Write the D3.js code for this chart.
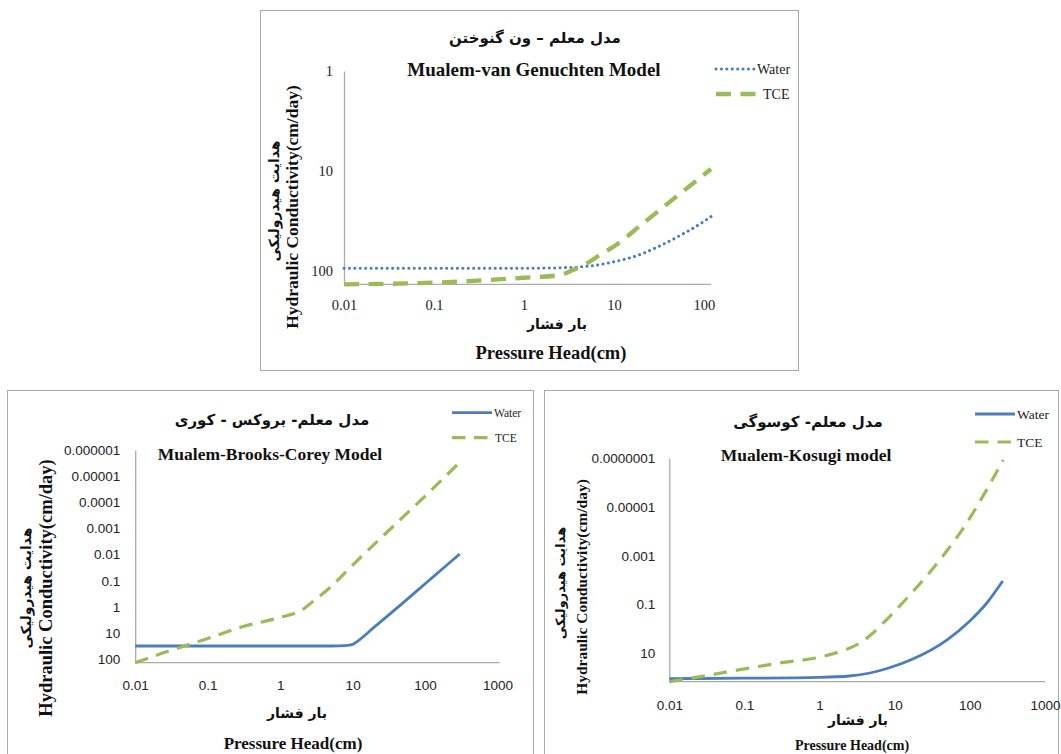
<!DOCTYPE html>
<html><head><meta charset="utf-8">
<script src="https://cdn.jsdelivr.net/npm/d3@7"></script>
<style>
body{margin:0;background:#fff;}
svg{display:block;}
</style>
</head><body>
<svg id="chart" width="1061" height="754"></svg>
<script>
// ---------- DATA ----------
// Mualem-van Genuchten (top panel)
const vgWaterHead = [0.01, 0.1, 1, 3, 5, 10, 20, 30, 50, 100, 120];
const vgWaterK    = [94, 94, 94, 92.5, 90, 81, 68, 58, 46, 32, 28.6];
const vgTceHead   = [0.01, 0.1, 1, 2.5, 3.5, 5, 7, 10, 20, 30, 50, 100, 120];
const vgTceK      = [136, 131, 117, 110, 98, 84, 69, 57, 34.7, 25.9, 17.9, 10.9, 9.55];
const vgXTicks = [0.01, 0.1, 1, 10, 100];
const vgXLabels = ["0.01", "0.1", "1", "10", "100"];
const vgYTicks = [1, 10, 100];
const vgYLabels = ["1", "10", "100"];

// Mualem-Brooks-Corey (bottom left)
const bcWaterHead = [0.01, 1, 5, 8, 10, 11.5, 20, 50, 100, 200, 300];
const bcWaterK    = [31, 31, 31, 30, 27, 21, 5.8, 0.68, 0.13, 0.025, 0.0095];
const bcTceHead   = [0.01, 0.03, 0.05, 0.1, 0.3, 1, 2, 3, 5, 10, 30, 100, 300];
const bcTceK      = [136, 47, 30, 16, 5.7, 2.5, 1.3, 0.54, 0.17, 0.025, 0.00136, 5.8e-5, 2.95e-6];
const bcXTicks = [0.01, 0.1, 1, 10, 100, 1000];
const bcXLabels = ["0.01", "0.1", "1", "10", "100", "1000"];
const bcYTicks = [1e-6, 1e-5, 1e-4, 1e-3, 1e-2, 1e-1, 1, 10, 100];
const bcYLabels = ["0.000001", "0.00001", "0.0001", "0.001", "0.01", "0.1", "1", "10", "100"];

// Mualem-Kosugi (bottom right)
const koWaterHead = [0.01, 0.1, 1, 2.5, 4.7, 8.3, 17.4, 49.3, 100, 168, 274];
const koWaterK    = [111, 106, 98, 86.5, 65, 40.6, 17.3, 2.88, 0.477, 0.087, 0.0109];
const koTceHead   = [0.01, 0.03, 0.1, 0.3, 1, 2, 3, 5, 6.3, 8.5, 17.4, 29, 50, 79, 150, 278];
const koTceK      = [148, 85, 44, 25, 14.6, 8, 4.8, 1.6, 0.8, 0.32, 0.03, 0.005, 6e-4, 8.7e-5, 3.5e-6, 1.17e-7];
const koXTicks = [0.01, 0.1, 1, 10, 100, 1000];
const koXLabels = ["0.01", "0.1", "1", "10", "100", "1000"];
const koYTicks = [1e-7, 1e-5, 1e-3, 1e-1, 10];
const koYLabels = ["0.0000001", "0.00001", "0.001", "0.1", "10"];

const seriesNames = ["Water", "TCE"];
const faTitles = ["مدل معلم – ون گنوختن", "مدل معلم- بروکس - کوری", "مدل معلم- کوسوگی"];
const enTitles = ["Mualem-van Genuchten Model", "Mualem-Brooks-Corey Model", "Mualem-Kosugi model"];
const faYTitle = "هدایت هیدرولیکی";
const enYTitle = "Hydraulic Conductivity(cm/day)";
const faXTitle = "بار فشار";
const enXTitle = "Pressure Head(cm)";

// ---------- DRAW ----------
const svg = d3.select("#chart");
const BLUE = "#4A7EBB", GREEN = "#9BBB59", AXIS = "#ABABAB", BORDER = "#A8A8A8";
const SERIF = "'Liberation Serif','Times New Roman',serif";
const SANS = "'Liberation Sans',Arial,sans-serif";
const FA = "'DejaVu Sans',sans-serif";

function zip(xs, ys){ return xs.map((x,i)=>({x, y: ys[i]})); }

function panel(c){
  const g = svg.append("g");
  g.append("rect").attr("x", c.box[0]+0.5).attr("y", c.box[1]+0.5)
    .attr("width", c.box[2]).attr("height", c.box[3])
    .attr("fill", "#fff").attr("stroke", BORDER).attr("stroke-width", 1);

  const x = d3.scaleLog().domain(c.xDomain).range(c.xRange);
  const y = d3.scaleLog().domain(c.yDomain).range(c.yRange);

  const xAxis = d3.axisBottom(x).tickValues(c.xTicks).tickSize(0)
    .tickFormat((d,i)=>c.xLabels[i]);
  const gx = g.append("g").attr("transform", `translate(0,${c.yRange[1]})`).call(xAxis);
  gx.select(".domain").attr("stroke", AXIS).attr("stroke-width", 1.3)
    .attr("d", `M${c.xRange[0]},0H${c.xAxisEnd}`);
  gx.selectAll("text").attr("font-family", c.tickFont).attr("font-size", c.tickSize)
    .attr("fill", "#222").attr("dy", null).attr("y", c.xLabelDy);

  const yAxis = d3.axisLeft(y).tickValues(c.yTicks).tickSize(0)
    .tickFormat((d,i)=>c.yLabels[i]);
  const gy = g.append("g").attr("transform", `translate(${c.xRange[0]},0)`).call(yAxis);
  gy.select(".domain").attr("stroke", AXIS).attr("stroke-width", 1.3);
  gy.selectAll("text").attr("font-family", c.tickFont).attr("font-size", c.tickSize)
    .attr("fill", "#222").attr("x", -c.yLabelGap);

  const line = d3.line().x(d=>x(d.x)).y(d=>y(d.y)).curve(d3.curveMonotoneX);

  c.series.forEach(s=>{
    g.append("path").datum(zip(s.xs, s.ys)).attr("d", line)
      .attr("fill", "none").attr("stroke", s.color).attr("stroke-width", s.width)
      .attr("stroke-dasharray", s.dash).attr("stroke-linecap", s.cap || "butt");
  });

  c.series.forEach((s,i)=>{
    const L = c.legend[i];
    g.append("line").attr("x1", L[0]).attr("x2", L[1]).attr("y1", L[2]).attr("y2", L[2])
      .attr("stroke", s.color).attr("stroke-width", s.width)
      .attr("stroke-dasharray", s.dash).attr("stroke-linecap", s.cap || "butt");
    g.append("text").attr("x", L[3]).attr("y", L[4]).text(seriesNames[i])
      .attr("font-family", SERIF).attr("font-size", c.legendSize).attr("fill", "#222");
  });

  g.append("text").attr("x", c.faTitle[0]).attr("y", c.faTitle[1]).text(c.faTitleText)
    .attr("text-anchor", "middle").attr("font-family", FA).attr("font-weight", "bold")
    .attr("font-size", c.faTitle[2]).attr("fill", "#111");
  g.append("text").attr("x", c.enTitle[0]).attr("y", c.enTitle[1]).text(c.enTitleText)
    .attr("text-anchor", "middle").attr("font-family", SERIF).attr("font-weight", "bold")
    .attr("font-size", c.enTitle[2]).attr("fill", "#111");

  g.append("text").attr("transform", `translate(${c.enY[0]},${c.enY[1]}) rotate(-90)`)
    .text(enYTitle).attr("text-anchor", "middle").attr("font-family", SERIF)
    .attr("font-weight", "bold").attr("font-size", c.enY[2]).attr("fill", "#111");
  g.append("text").attr("transform", `translate(${c.faY[0]},${c.faY[1]}) rotate(-90)`)
    .text(faYTitle).attr("text-anchor", "middle").attr("font-family", FA)
    .attr("font-weight", "bold").attr("font-size", c.faY[2]).attr("fill", "#111");

  g.append("text").attr("x", c.faX[0]).attr("y", c.faX[1]).text(faXTitle)
    .attr("text-anchor", "middle").attr("font-family", FA).attr("font-weight", "bold")
    .attr("font-size", c.faX[2]).attr("fill", "#111");
  g.append("text").attr("x", c.enX[0]).attr("y", c.enX[1]).text(enXTitle)
    .attr("text-anchor", "middle").attr("font-family", SERIF).attr("font-weight", "bold")
    .attr("font-size", c.enX[2]).attr("fill", "#111");
}

panel({
  box: [260, 10, 538, 360],
  xDomain: [0.01, 120], xRange: [344, 711], xAxisEnd: 711,
  yDomain: [1, 136], yRange: [71, 284.3],
  xTicks: vgXTicks, xLabels: vgXLabels, yTicks: vgYTicks, yLabels: vgYLabels,
  tickFont: SERIF, tickSize: 14.5, xLabelDy: 26, yLabelGap: 11,
  series: [
    {xs: vgWaterHead, ys: vgWaterK, color: BLUE, width: 3, dash: "0.1,5.3", cap: "round"},
    {xs: vgTceHead, ys: vgTceK, color: GREEN, width: 4.3, dash: "15,9.5"}
  ],
  legend: [[716, 755, 69, 757, 74], [716, 758, 94, 763, 99]],
  legendSize: 14,
  faTitleText: faTitles[0], faTitle: [535, 43, 15],
  enTitleText: enTitles[0], enTitle: [534, 76, 19],
  enY: [298, 207, 17.5], faY: [279, 201, 14],
  faX: [557, 329, 14], enX: [551, 359, 18.5]
});

panel({
  box: [7, 390, 526, 380],
  xDomain: [0.01, 1000], xRange: [135.2, 497.6], xAxisEnd: 499.7,
  yDomain: [1e-6, 135], yRange: [450, 662.7],
  xTicks: bcXTicks, xLabels: bcXLabels, yTicks: bcYTicks, yLabels: bcYLabels,
  tickFont: SANS, tickSize: 13.5, xLabelDy: 27, yLabelGap: 15,
  series: [
    {xs: bcWaterHead, ys: bcWaterK, color: BLUE, width: 2.8, dash: null},
    {xs: bcTceHead, ys: bcTceK, color: GREEN, width: 3.2, dash: "13.5,8.5"}
  ],
  legend: [[452, 492, 412.7, 494, 416.5], [452, 491, 437.7, 495, 441.5]],
  legendSize: 11.5,
  faTitleText: faTitles[1], faTitle: [272, 425, 15],
  enTitleText: enTitles[1], enTitle: [270, 460, 17.5],
  enY: [52, 588, 18.5], faY: [31, 588, 14],
  faX: [297, 718, 14], enX: [293, 749, 17]
});

panel({
  box: [544, 390, 514, 380],
  xDomain: [0.01, 1000], xRange: [669.3, 1045], xAxisEnd: 1045,
  yDomain: [1e-7, 148], yRange: [458.3, 681.7],
  xTicks: koXTicks, xLabels: koXLabels, yTicks: koYTicks, yLabels: koYLabels,
  tickFont: SANS, tickSize: 13.5, xLabelDy: 28, yLabelGap: 14,
  series: [
    {xs: koWaterHead, ys: koWaterK, color: BLUE, width: 2.8, dash: null},
    {xs: koTceHead, ys: koTceK, color: GREEN, width: 3.2, dash: "13.5,9"}
  ],
  legend: [[975, 1015, 414, 1017, 418.5], [975, 1014, 442, 1017, 447]],
  legendSize: 13.5,
  faTitleText: faTitles[2], faTitle: [808, 427, 15],
  enTitleText: enTitles[2], enTitle: [806, 461, 17.5],
  enY: [587, 587, 15.5], faY: [565, 583, 13],
  faX: [858, 725, 14], enX: [852, 750, 14]
});
</script>
</body></html>
